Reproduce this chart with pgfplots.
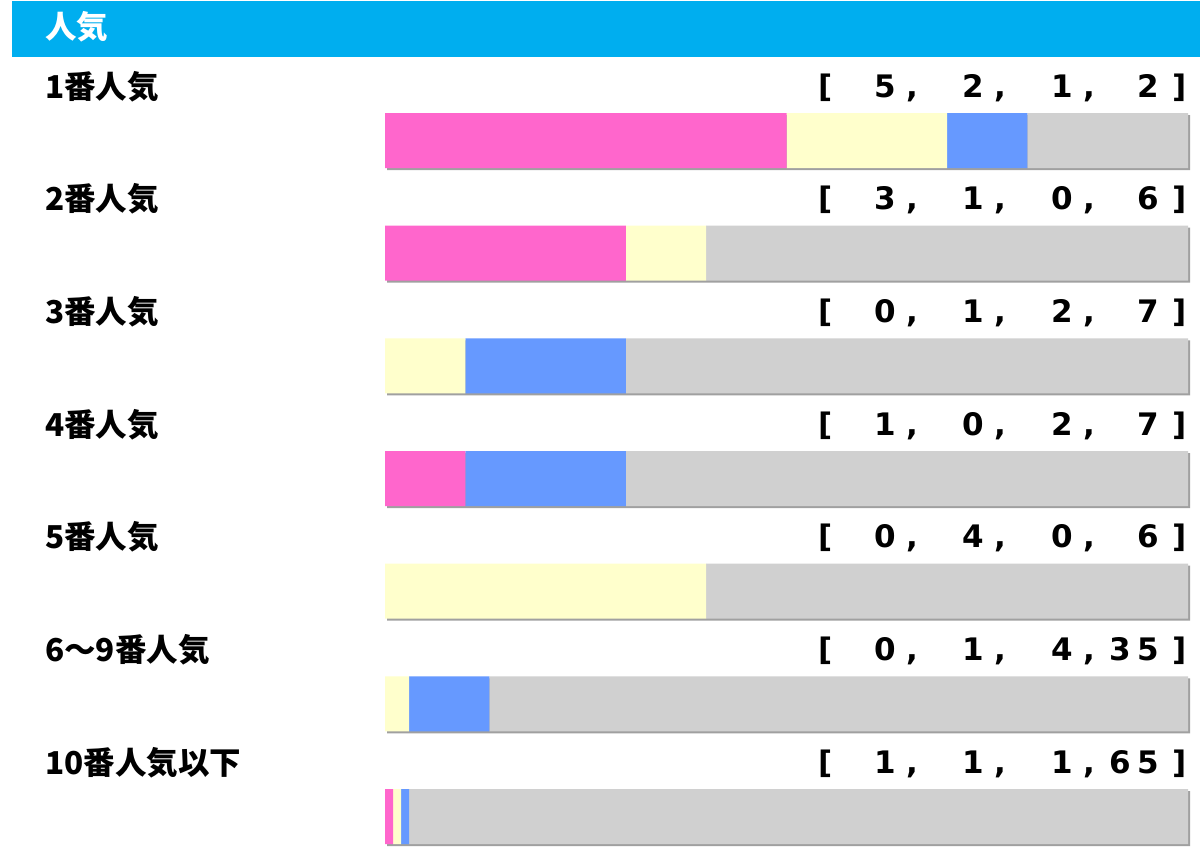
\documentclass[border=0pt]{standalone}
\usepackage{pgfplots}
\pgfplotsset{compat=1.18}
\usepackage{fontspec}
\newfontfamily\jp{Noto Sans CJK JP}
\newfontfamily\mono{DejaVu Sans}
\definecolor{hdr}{HTML}{00AEEF}
\definecolor{pk}{HTML}{FF66CC}
\definecolor{yl}{HTML}{FFFFCC}
\definecolor{bl}{HTML}{6699FF}
\definecolor{gr}{HTML}{D0D0D0}
\definecolor{shd}{HTML}{A0A0A0}
\tikzset{bk/.style={anchor=base,inner sep=0pt,font=\mono\bfseries\fontsize{31pt}{31pt}\selectfont},
lb/.style={anchor=base west,inner sep=0pt,font=\jp\bfseries\fontsize{31.5pt}{31.5pt}\selectfont}}
\newcommand\brk[9]{%
\node[bk] at (826pt,-#1pt) {[};
\node[bk] at (855.5pt,-#1pt) {#2};
\node[bk] at (885pt,-#1pt) {#3};
\node[bk] at (912pt,-#1pt) {,};
\node[bk] at (944pt,-#1pt) {#4};
\node[bk] at (973.5pt,-#1pt) {#5};
\node[bk] at (1000.5pt,-#1pt) {,};
\node[bk] at (1032.5pt,-#1pt) {#6};
\node[bk] at (1062pt,-#1pt) {#7};
\node[bk] at (1089pt,-#1pt) {,};
\node[bk] at (1120pt,-#1pt) {#8};
\node[bk] at (1148.5pt,-#1pt) {#9};
\node[bk] at (1180pt,-#1pt) {]};
}
\pgfplotsset{rowaxis/.style={scale only axis, hide axis, width=803pt, height=788.67pt,
 xmin=0, xmax=100, ymin=0.5, ymax=7.5, y dir=reverse, anchor=north west, clip=false}}
\begin{document}
\begin{tikzpicture}
\useasboundingbox (0pt,0pt) rectangle (1200pt,-849pt);
\fill[white] (0pt,0pt) rectangle (1200pt,-849pt);
\fill[hdr] (12pt,-1pt) rectangle (1200pt,-57pt);
\node[lb,text=white] at (45pt,-38pt) {人気};
% shadow
\begin{axis}[rowaxis, at={(387pt,-86.17pt)}, xbar, bar width=55pt]
\addplot[fill=shd, draw=none] coordinates {(100,1) (100,2) (100,3) (100,4) (100,5) (100,6) (100,7)};
\end{axis}
\begin{axis}[rowaxis, at={(385pt,-84.17pt)}, xbar stacked, bar width=55pt]
% rounded percentages of [1st, 2nd, 3rd, other] per row
\addplot[fill=pk, draw=none] coordinates {(50,1) (30,2) (0,3) (10,4) (0,5) (0,6) (1,7)};
\addplot[fill=yl, draw=none] coordinates {(20,1) (10,2) (10,3) (0,4) (40,5) (3,6) (1,7)};
\addplot[fill=bl, draw=none] coordinates {(10,1) (0,2) (20,3) (20,4) (0,5) (10,6) (1,7)};
\addplot[fill=gr, draw=none] coordinates {(20,1) (60,2) (70,3) (70,4) (60,5) (87,6) (97,7)};
\end{axis}
\node[lb] at (45pt,-98pt) {1番人気};
\node[lb] at (45pt,-210.7pt) {2番人気};
\node[lb] at (45pt,-323.3pt) {3番人気};
\node[lb] at (45pt,-436pt) {4番人気};
\node[lb] at (45pt,-548.7pt) {5番人気};
\node[lb] at (45pt,-661.3pt) {6～9番人気};
\node[lb] at (45pt,-774pt) {10番人気以下};
\brk{97}{}{5}{}{2}{}{1}{}{2}
\brk{209.7}{}{3}{}{1}{}{0}{}{6}
\brk{322.3}{}{0}{}{1}{}{2}{}{7}
\brk{435}{}{1}{}{0}{}{2}{}{7}
\brk{547.7}{}{0}{}{4}{}{0}{}{6}
\brk{660.3}{}{0}{}{1}{}{4}{3}{5}
\brk{773}{}{1}{}{1}{}{1}{6}{5}
\end{tikzpicture}
\end{document}
